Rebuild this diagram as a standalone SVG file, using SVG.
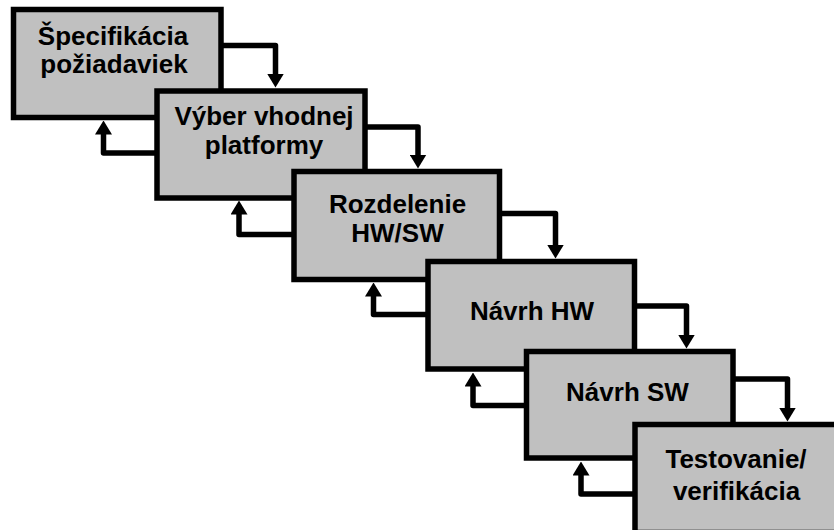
<svg xmlns="http://www.w3.org/2000/svg" width="834" height="530" viewBox="0 0 834 530">
<style>
.box{fill:#C0C0C0;stroke:#000;stroke-width:5.5}
.lbl{font-family:"Liberation Sans",Arial,sans-serif;font-weight:bold;font-size:26px;fill:#000;text-anchor:middle}
.con{fill:none;stroke:#000;stroke-width:5.5;stroke-linejoin:round}
</style>
<defs>
<marker id="ah" viewBox="0 0 14 17" refX="0.5" refY="8.5" markerWidth="14" markerHeight="17" markerUnits="userSpaceOnUse" orient="auto">
<path d="M0,0 L14,8.5 L0,17 Z" fill="#000"/>
</marker>
</defs>
<rect width="834" height="530" fill="#fff"/>
<g id="n1"><rect class="box" x="13.5" y="9.5" width="207.5" height="108"/>
<text class="lbl" x="113" y="45">Špecifikácia</text><text class="lbl" x="114" y="72.5">požiadaviek</text></g>
<g id="n2"><rect class="box" x="157" y="91" width="208" height="107"/>
<text class="lbl" x="264" y="124.5">Výber vhodnej</text><text class="lbl" x="264" y="154">platformy</text></g>
<g id="n3"><rect class="box" x="294" y="171.5" width="205.5" height="108"/>
<text class="lbl" x="397.5" y="212.5">Rozdelenie</text><text class="lbl" x="397.5" y="242">HW/SW</text></g>
<g id="n4"><rect class="box" x="428" y="261.5" width="206.5" height="107.5"/>
<text class="lbl" x="532" y="320">Návrh HW</text></g>
<g id="n5"><rect class="box" x="526.5" y="351.5" width="206.5" height="106.5"/>
<text class="lbl" x="627.5" y="400.5">Návrh SW</text></g>
<g id="n6"><rect class="box" x="635" y="424.5" width="207" height="108"/>
<text class="lbl" x="736" y="468">Testovanie/</text><text class="lbl" x="736.5" y="500">verifikácia</text></g>
<g id="connectors">
<path class="con" marker-end="url(#ah)" d="M221,45.5 H275.5 V74"/>
<path class="con" marker-end="url(#ah)" d="M365,127 H418 V155"/>
<path class="con" marker-end="url(#ah)" d="M499.5,213.5 H555.5 V245"/>
<path class="con" marker-end="url(#ah)" d="M634.5,306 H686.5 V335"/>
<path class="con" marker-end="url(#ah)" d="M733,379 H787.5 V408"/>
<path class="con" marker-end="url(#ah)" d="M157,153 H103.5 V134"/>
<path class="con" marker-end="url(#ah)" d="M294,234.5 H239 V214"/>
<path class="con" marker-end="url(#ah)" d="M428,314.5 H373.5 V296"/>
<path class="con" marker-end="url(#ah)" d="M526.5,405.5 H473 V386"/>
<path class="con" marker-end="url(#ah)" d="M635,494 H581 V475"/>
</g>
</svg>
